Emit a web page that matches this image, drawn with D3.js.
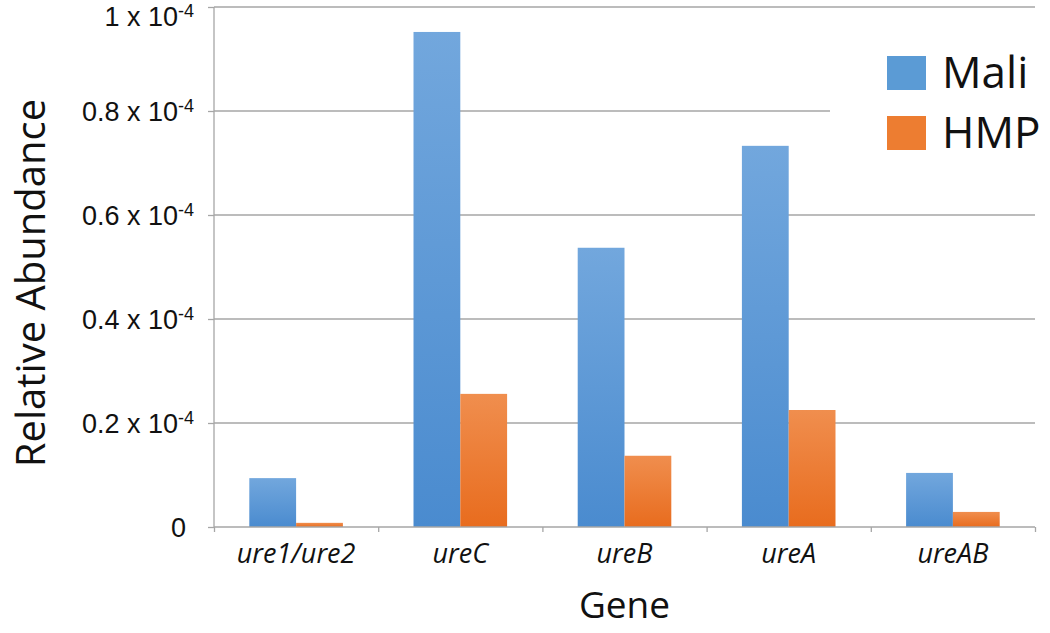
<!DOCTYPE html>
<html>
<head>
<meta charset="utf-8">
<script src="https://cdn.jsdelivr.net/npm/d3@7"></script>
<style>
  body { margin: 0; background: #fff; }
  svg { font-family: "Open Sans", "Liberation Sans", sans-serif; }
</style>
</head>
<body>
<svg id="chart" width="1050" height="633"></svg>
<script>
// data (relative abundance, units of 1e-4)
var genes = ["ure1/ure2", "ureC", "ureB", "ureA", "ureAB"];
var series = ["Mali", "HMP"];
var mali = [0.094, 0.952, 0.537, 0.733, 0.104];
var hmp = [0.008, 0.256, 0.137, 0.225, 0.029];
var yTicks = [0, 0.2, 0.4, 0.6, 0.8, 1];
var yTickMantissa = ["0", "0.2", "0.4", "0.6", "0.8", "1"];
var colors = {Mali: ["#72a7dd", "#4a8bcf"], HMP: ["#f08e4e", "#e86c1e"]};

var margin = {top: 7, left: 214, right: 15, bottom: 106};
var width = 1050 - margin.left - margin.right;
var height = 633 - margin.top - margin.bottom;

var svg = d3.select("#chart");

// gradients like the office bar fill
var defs = svg.append("defs");
series.forEach(function(s) {
  var g = defs.append("linearGradient")
    .attr("id", "grad" + s)
    .attr("x1", 0).attr("y1", 0).attr("x2", 0).attr("y2", 1);
  g.append("stop").attr("offset", "0%").attr("stop-color", colors[s][0]);
  g.append("stop").attr("offset", "100%").attr("stop-color", colors[s][1]);
});

var chart = svg.append("g")
  .attr("transform", "translate(" + margin.left + "," + margin.top + ")");

var x0 = d3.scaleBand().domain(genes).range([0, width]).paddingInner(0.43).paddingOuter(0.215);
var x1 = d3.scaleBand().domain(series).range([0, x0.bandwidth()]);
var y = d3.scaleLinear().domain([0, 1]).range([height, 0]);

// gridlines
chart.append("g").selectAll("line")
  .data(yTicks.slice(1))
  .enter().append("line")
  .attr("x1", 0).attr("x2", width)
  .attr("y1", function(d) { return y(d); })
  .attr("y2", function(d) { return y(d); })
  .style("stroke", "#a6a6a6")
  .style("stroke-width", 1.3);

// y axis
var yAxis = d3.axisLeft(y).tickValues(yTicks).tickSize(6).tickFormat("");
var yg = chart.append("g").call(yAxis);
yg.select(".domain").style("stroke", "#a6a6a6").style("stroke-width", 1.3).attr("d", "M0," + height + "V0");
yg.selectAll(".tick line").style("stroke", "#a6a6a6").style("stroke-width", 1.3);
yg.selectAll(".tick").each(function(d, i) {
  var t = d3.select(this).append("text")
    .attr("x", -20)
    .attr("y", d === 1 ? 9 : 0)
    .attr("dy", "0.35em")
    .style("text-anchor", "end")
    .style("font-size", "27px")
    .style("fill", "#111");
  if (d === 0) {
    t.attr("x", -28).text("0");
  } else {
    t.append("tspan").text(yTickMantissa[i] + " x 10");
    t.append("tspan").attr("dy", "-0.5em").style("font-size", "18px").text("-4");
  }
});

// bars
var groups = chart.append("g").selectAll("g")
  .data(genes)
  .enter().append("g")
  .attr("transform", function(d) { return "translate(" + x0(d) + ",0)"; });

groups.selectAll("rect")
  .data(function(d, i) { return [{s: "Mali", v: mali[i]}, {s: "HMP", v: hmp[i]}]; })
  .enter().append("rect")
  .attr("x", function(d) { return x1(d.s); })
  .attr("width", x1.bandwidth())
  .attr("y", function(d) { return y(d.v); })
  .attr("height", function(d) { return height - y(d.v); })
  .style("fill", function(d) { return "url(#grad" + d.s + ")"; });

// x axis
var xAxis = d3.axisBottom(d3.scaleLinear().domain([0, genes.length]).range([0, width]))
  .tickValues(d3.range(genes.length + 1)).tickSize(5).tickFormat("");
var xg = chart.append("g").attr("transform", "translate(0," + height + ")").call(xAxis);
xg.select(".domain").style("stroke", "#a6a6a6").style("stroke-width", 1.3).attr("d", "M0,0H" + width);
xg.selectAll(".tick line").style("stroke", "#a6a6a6").style("stroke-width", 1.3);

chart.append("g").selectAll("text")
  .data(genes)
  .enter().append("text")
  .attr("x", function(d) { return x0(d) + x0.bandwidth() / 2; })
  .attr("y", height + 36)
  .style("text-anchor", "middle")
  .style("font-size", "27px")
  .style("font-style", "italic")
  .style("fill", "#111")
  .text(function(d) { return d; });

// axis titles
svg.append("text")
  .attr("transform", "translate(" + (margin.left + width / 2) + ",618)")
  .style("text-anchor", "middle")
  .style("font-size", "37px")
  .style("fill", "#111")
  .text("Gene");

svg.append("text")
  .attr("transform", "translate(45," + (margin.top + height / 2 + 16) + ") rotate(-90)")
  .style("text-anchor", "middle")
  .style("font-size", "40px")
  .style("fill", "#111")
  .text("Relative Abundance");

// legend
var legend = svg.append("g");
legend.append("rect")
  .attr("x", 830).attr("y", 24).attr("width", 220).attr("height", 150)
  .style("fill", "#fff");
series.forEach(function(s, i) {
  legend.append("rect")
    .attr("x", 887).attr("y", 56 + i * 60)
    .attr("width", 39).attr("height", 34)
    .style("fill", s === "Mali" ? "#5b9bd5" : "#ed7d31");
  legend.append("text")
    .attr("x", 942).attr("y", 73 + i * 60)
    .attr("dy", "0.35em")
    .style("font-size", "44px")
    .style("fill", "#111")
    .text(s);
});
</script>
</body>
</html>
